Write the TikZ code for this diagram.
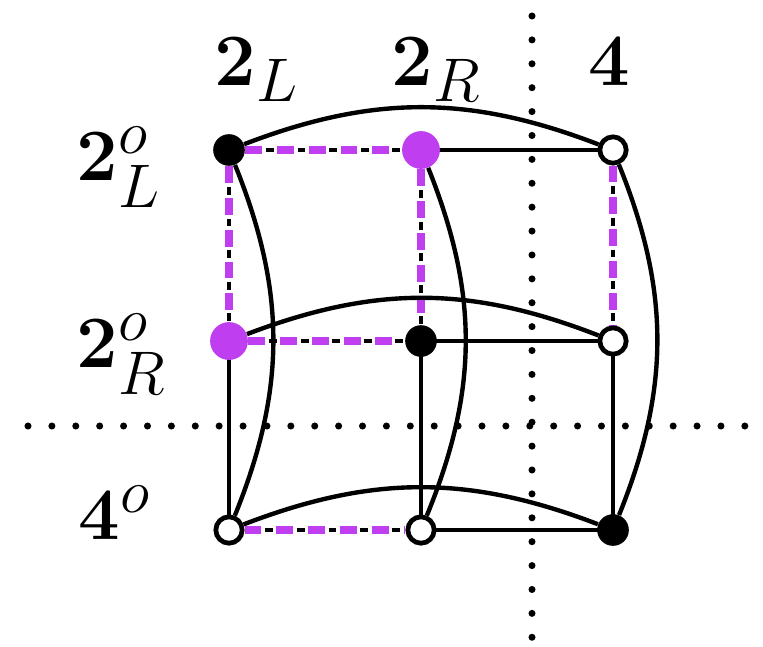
\documentclass[tikz,border=0pt]{standalone}
\usepackage{amsmath}
\definecolor{pur}{RGB}{190,62,240}
\pgfdeclarelayer{back}
\pgfdeclarelayer{mid}
\pgfsetlayers{back,mid,main}
\begin{document}
\begin{tikzpicture}[x=0.02cm,y=-0.02cm,
  edge/.style={line width=2.7pt},
  curve/.style={line width=2.5pt},
  dots/.style={line width=4pt,line cap=round,dash pattern=on 0pt off 13.6pt},
  dual/.style={line width=2.7pt,dash pattern=on 4.5pt off 4.5pt,dash phase=6.2pt,
    postaction={draw=pur,line width=4pt,dash pattern=on 9.6pt off 8.5pt,dash phase=0pt}},
  blk/.style={circle,fill=black,inner sep=0pt,minimum size=18pt},
  pnode/.style={circle,fill=pur,inner sep=0pt,minimum size=21.5pt},
  wnode/.style={circle,draw=black,line width=2.7pt,fill=white,inner sep=0pt,minimum size=15pt},
  lab/.style={font=\Huge,scale=1.69,inner sep=0pt,anchor=base west},
]
\useasboundingbox (0,0) rectangle (763,646);
% nodes
\node[blk] (a1) at (229,150) {};
\node[pnode] (a2) at (421,150) {};
\node[wnode] (a3) at (613,150) {};
\node[pnode] (b1) at (229,341) {};
\node[blk] (b2) at (421,341) {};
\node[wnode] (b3) at (613,341) {};
\node[wnode] (c1) at (229,530) {};
\node[wnode] (c2) at (421,530) {};
\node[blk] (c3) at (613,530) {};
% labels
\node[lab] (tL) at (214,85) {$\mathbf{2}_L$};
\node[lab] (tR) at (391,85) {$\mathbf{2}_R$};
\node[lab] (t4) at (588,85) {$\mathbf{4}$};
\node[lab] (l1) at (76,180) {$\mathbf{2}^o_L$};
\node[lab] (l2) at (76,367) {$\mathbf{2}^o_R$};
\node[lab] (l3) at (78,539) {$\mathbf{4}^o$};
% dotted axes
\begin{pgfonlayer}{back}
\coordinate (h1) at (28,426);
\coordinate (h2) at (748,426);
\coordinate (v1) at (532,16);
\coordinate (v2) at (532,640);
\draw[dots] (h1) -- (h2);
\draw[dots] (v1) -- (v2);
\end{pgfonlayer}
% edges
\begin{pgfonlayer}{mid}
\draw[edge] (a2.center) -- (a3.center);
\draw[edge] (b2.center) -- (b3.center);
\draw[edge] (c2.center) -- (c3.center);
\draw[edge] (b1.center) -- (c1.center);
\draw[edge] (b2.center) -- (c2.center);
\draw[edge] (b3.center) -- (c3.center);
\draw[dual] (a1) -- (a2);
\draw[dual] (b1) -- (b2);
\draw[dual] (c1) -- (c2);
\draw[dual] (a1) -- (b1);
\draw[dual] (a2) -- (b2);
\draw[dual] (a3) -- (b3);
\draw[curve] (a1) to[bend left=21] (a3);
\draw[curve] (b1) to[bend left=21] (b3);
\draw[curve] (c1) to[bend left=21] (c3);
\draw[curve] (a1) to[bend left=22] (c1);
\draw[curve] (a2) to[bend left=22] (c2);
\draw[curve] (a3) to[bend left=22] (c3);
\end{pgfonlayer}
\end{tikzpicture}
\end{document}
